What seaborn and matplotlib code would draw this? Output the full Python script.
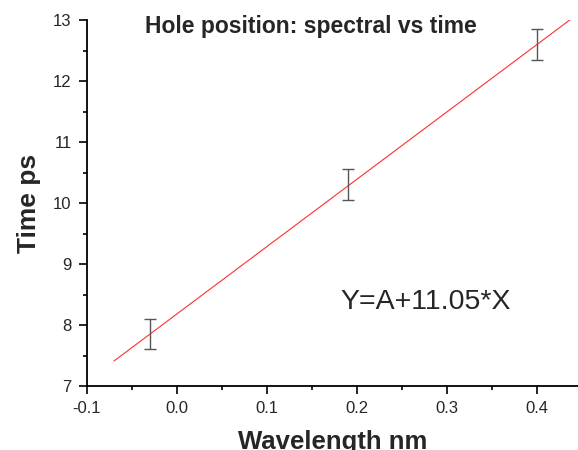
import numpy as np
import pandas as pd
import matplotlib
matplotlib.use("Agg")
import matplotlib.pyplot as plt
from matplotlib.ticker import MultipleLocator
import seaborn as sns

# measured hole positions (wavelength nm vs time ps) with error bars
wavelength = [-0.03, 0.19, 0.40]
time_ps = [7.85, 10.30, 12.60]
time_err = [0.25, 0.25, 0.25]

# linear fit line endpoints
fit_x = [-0.07, 0.44]
fit_y = [7.41, 13.04]

sns.set_style("ticks")
plt.rcParams["font.family"] = ["Liberation Sans", "DejaVu Sans"]

fig = plt.figure(figsize=(5.78, 4.5), dpi=100)
ax = fig.add_axes([0.1505, 0.1422, 0.8495, 0.8133])

fit = pd.DataFrame({"x": fit_x, "y": fit_y})
sns.lineplot(data=fit, x="x", y="y", ax=ax, color="#ff3030", lw=0.8)
ax.errorbar(wavelength, time_ps, yerr=time_err, fmt="none",
            ecolor="#555555", elinewidth=1.0, capsize=4, capthick=1.0)

ax.set_xlim(-0.1, 0.4456)
ax.set_ylim(7, 13)
ax.xaxis.set_minor_locator(MultipleLocator(0.05))
ax.yaxis.set_major_locator(MultipleLocator(1))
ax.yaxis.set_minor_locator(MultipleLocator(0.5))
ax.set_xticks([-0.1, 0.0, 0.1, 0.2, 0.3, 0.4])
ax.set_xticklabels(["-0.1", "0.0", "0.1", "0.2", "0.3", "0.4"])
ax.tick_params(which="major", direction="out", length=6, width=1.2,
               labelsize=12, pad=5, color="black")
ax.tick_params(which="minor", direction="out", length=3, width=1.2, color="black")
for s in ["top", "right"]:
    ax.spines[s].set_visible(False)
for s in ["left", "bottom"]:
    ax.spines[s].set_linewidth(1.3)
    ax.spines[s].set_color("black")

ax.set_xlabel("Wavelength nm", fontsize=18.5, fontweight="bold", labelpad=10)
ax.set_ylabel("Time ps", fontsize=19, fontweight="bold", labelpad=9)

fig.text(0.537, 0.94, "Hole position: spectral vs time", ha="center", va="center",
         fontsize=16.5, fontweight="bold")
ax.text(0.276, 8.38, "Y=A+11.05*X", fontsize=20.5, ha="center", va="center")

fig.savefig("out.png", dpi=100)
